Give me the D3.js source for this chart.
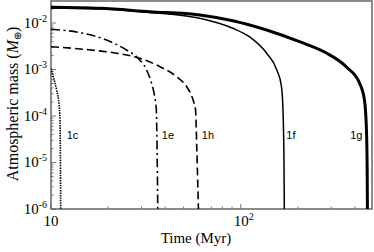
<!DOCTYPE html>
<html>
<head>
<meta charset="utf-8">
<script src="https://cdn.jsdelivr.net/npm/d3@7"></script>
<style>
  body { margin: 0; background: #fff; }
  svg { display: block; }
  .lbl { font-family: "Liberation Sans", Arial, sans-serif; font-size: 11px; }
  .serif { font-family: "Liberation Serif", "Times New Roman", serif; }
</style>
</head>
<body>
<div id="chart"></div>
<script>
// time in Myr, atmospheric mass in Earth masses
const curve1c = [[10, 0.00105], [10.28, 7.0e-4], [10.71, 3.6e-4], [11.06, 1.6e-4], [11.18, 5e-5], [11.22, 7e-6], [11.25, 5e-7]];
const curve1e = [[10, 0.00733], [14.8, 0.0060], [19.6, 0.00431], [25.0, 0.00263], [28.8, 0.00174], [31.9, 9.8e-4], [33.9, 5.0e-4], [35.2, 2.6e-4], [35.9, 1.35e-4], [36.3, 1.1e-5], [36.6, 5e-7]];
const curve1h = [[10, 0.00309], [14.8, 0.00272], [22.2, 0.00223], [29.4, 0.00174], [37.5, 0.00115], [45.9, 7.0e-4], [51.8, 4.3e-4], [56.1, 2.2e-4], [57.8, 1.35e-4], [58.7, 1.9e-5], [60.1, 5e-7]];
const curve1f = [[10, 0.0210], [18.1, 0.0202], [33.2, 0.0168], [60.8, 0.0126], [90.8, 0.00769], [111, 0.00507], [137, 0.00223], [155, 9.8e-4], [164, 4.3e-4], [167, 1.35e-4], [169, 1.1e-5], [170, 5e-7]];
const curve1g = [[10, 0.0218], [18.1, 0.0207], [33.2, 0.0175], [60.8, 0.0149], [90.8, 0.0112], [137, 0.00707], [204, 0.00396], [283, 0.00226], [361, 0.00113], [423, 5.1e-4], [449, 2.2e-4], [460, 5e-5], [464, 7e-6], [466, 5e-7]];

const seriesNames = ["1c", "1e", "1h", "1f", "1g"];
const labelTimes = [12.1, 38.4, 62.4, 174, 438];
const yTickExps = [-2, -3, -4, -5, -6];
const xTickExps = [1, 2];

const width = 374, height = 252;
const margin = {top: 1, right: 2, bottom: 43, left: 51};
const iw = width - margin.left - margin.right;
const ih = height - margin.top - margin.bottom;

const svg = d3.select("#chart").append("svg")
  .attr("width", width).attr("height", height);

const x = d3.scaleLog().domain([10, 492]).range([0, iw]);
const y = d3.scaleLog().domain([1e-6, 0.0297]).range([ih, 0]);

const g = svg.append("g").attr("transform", "translate(" + margin.left + "," + margin.top + ")");

g.append("clipPath").attr("id", "clip")
  .append("rect").attr("width", iw).attr("height", ih);

// minor + major ticks on left axis (pointing inside)
const yMinor = [];
for (let e = -6; e <= -2; e++) {
  for (let k = 1; k < 10; k++) {
    const v = k * Math.pow(10, e);
    if (v <= 0.0297) yMinor.push(v);
  }
}
g.selectAll(".ytick").data(yMinor).enter().append("line")
  .attr("x1", 0).attr("x2", d => (Math.abs(Math.log10(d) - Math.round(Math.log10(d))) < 1e-9) ? 5 : 2.5)
  .attr("y1", d => y(d)).attr("y2", d => y(d))
  .attr("stroke", "#777").attr("stroke-width", 1);

const xMinor = [];
for (let e = 1; e <= 2; e++) {
  for (let k = 1; k < 10; k++) {
    const v = k * Math.pow(10, e);
    if (v <= 492) xMinor.push(v);
  }
}
g.selectAll(".xtick").data(xMinor).enter().append("line")
  .attr("y1", ih).attr("y2", d => ih - ((d === 10 || d === 100) ? 5 : 2.5))
  .attr("x1", d => x(d)).attr("x2", d => x(d))
  .attr("stroke", "#777").attr("stroke-width", 1);

// frame
g.append("rect").attr("x", 0).attr("y", 0).attr("width", iw).attr("height", ih)
  .attr("fill", "none").attr("stroke", "#666").attr("stroke-width", 1.5);

const line = d3.line()
  .x(d => x(d[0])).y(d => y(d[1]))
  .curve(d3.curveMonotoneX);

const styles = [
  {data: curve1c, w: 1.6, dash: "1.5,1"},
  {data: curve1e, w: 1.6, dash: "9,3.5,2,3.5"},
  {data: curve1h, w: 1.6, dash: "8,4"},
  {data: curve1f, w: 1.5, dash: null},
  {data: curve1g, w: 3, dash: null}
];

const plot = g.append("g").attr("clip-path", "url(#clip)");
styles.forEach(s => {
  plot.append("path").datum(s.data)
    .attr("fill", "none").attr("stroke", "#000")
    .attr("stroke-width", s.w)
    .attr("stroke-dasharray", s.dash)
    .attr("d", line);
});

// curve labels
g.selectAll(".clabel").data(seriesNames).enter().append("text")
  .attr("class", "lbl")
  .attr("x", (d, i) => x(labelTimes[i]))
  .attr("y", 139 - margin.top)
  .attr("text-anchor", (d, i) => i === 4 ? "end" : "start")
  .text(d => d);

// y tick labels
yTickExps.forEach(e => {
  const t = svg.append("text").attr("class", "serif")
    .attr("x", margin.left - 4).attr("y", margin.top + y(Math.pow(10, e)) + 5)
    .attr("text-anchor", "end").attr("font-size", 15);
  t.append("tspan").text("10");
  t.append("tspan").attr("font-size", 10).attr("dy", -6).text(String(e));
});

// x tick labels
xTickExps.forEach(e => {
  const t = svg.append("text").attr("class", "serif")
    .attr("x", margin.left + x(Math.pow(10, e)) + (e === 1 ? 0 : 3)).attr("y", 226)
    .attr("text-anchor", "middle").attr("font-size", 15);
  t.append("tspan").text("10");
  if (e > 1) t.append("tspan").attr("font-size", 10).attr("dy", -6).text(String(e));
});

// axis titles
svg.append("text").attr("class", "serif")
  .attr("x", 196).attr("y", 243).attr("text-anchor", "middle")
  .attr("font-size", 15).text("Time (Myr)");

const yt = svg.append("text").attr("class", "serif")
  .attr("transform", "translate(18," + (margin.top + ih / 2 - 1) + ") rotate(-90)")
  .attr("text-anchor", "middle").attr("font-size", 16);
yt.append("tspan").text("Atmospheric mass (");
yt.append("tspan").attr("font-style", "italic").text("M");
yt.append("tspan").attr("font-size", 10).attr("dy", 3).text("⊕");
yt.append("tspan").attr("dy", -3).text(")");
</script>
</body>
</html>
